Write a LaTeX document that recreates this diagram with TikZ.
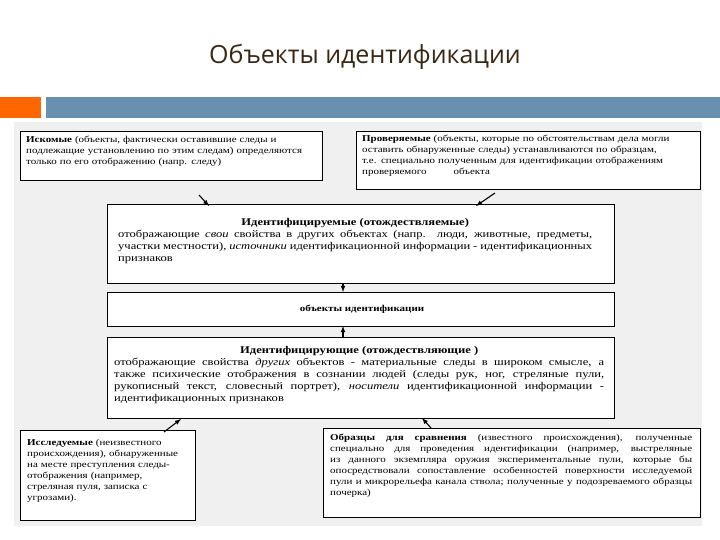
\documentclass[tikz,border=0pt]{standalone}
\usepackage{fontspec}
\setmainfont{Liberation Serif}[FakeStretch=1.22]
\newfontfamily\titlefont{Open Sans}
\begin{document}
\begin{tikzpicture}[x=1pt,y=-1pt,
  bx/.style={draw=black,line width=0.8pt,fill=white},
  tx/.style={font=\fontsize{9}{11}\selectfont,align=justify,inner sep=0pt,anchor=north west},
  ar/.style={-latex,line width=1.1pt}]
\useasboundingbox (0,0) rectangle (720,540);
\node[font=\titlefont\fontsize{25}{28}\selectfont,text=black!70!brown] (title) at (365,57) {Объекты идентификации};
\fill[orange!80!red] (0,97) rectangle (41,118);
\fill[blue!45!cyan!30!gray!90!white] (46,97) rectangle (720,118);
\fill[black!6] (14,122) rectangle (702,526);
% boxes
\draw[bx] (20,131) rectangle (322,180);
\node[tx,text width=284,align=left] (t1) at (26,136) {\textbf{Искомые} (объекты, фактически оставившие следы и подлежащие установлению по этим следам) определяются только по его отображению (напр. следу)};
\draw[bx] (356,131) rectangle (700,189);
\node[tx,text width=330,align=left] (t2) at (362,135) {\textbf{Проверяемые} (объекты, которые по обстоятельствам дела могли оставить обнаруженные следы) устанавливаются по образцам, т.е. специально полученным для идентификации отображениям проверяемого\hspace{3em}объекта};
\draw[bx] (107,204) rectangle (614,283);
\node[tx,font=\fontsize{10.3}{12}\selectfont,text width=474] (t3) at (118,218) {{\centering\textbf{Идентифицируемые (отождествляемые)}\par}отображающие \textit{свои} свойства в других объектах (напр. люди, животные, предметы, участки местности), \textit{источники} идентификационной информации - идентификационных признаков};
\draw[bx] (107,292) rectangle (614,326);
\node[font=\fontsize{9}{10}\selectfont\bfseries] (t4) at (362,309) {объекты идентификации};
\draw[bx] (107,337) rectangle (614,418);
\node[tx,font=\fontsize{10.3}{12}\selectfont,text width=490] (t5) at (114,346) {{\centering\textbf{Идентифицирующие (отождествляющие )}\par}отображающие свойства \textit{других} объектов - материальные следы в широком смысле, а также психические отображения в сознании людей (следы рук, ног, стреляные пули, рукописный текст, словесный портрет), \textit{носители} идентификационной информации - идентификационных признаков};
\draw[bx] (20,430) rectangle (195,520);
\node[tx,text width=160,align=left] (t6) at (27,439) {\textbf{Исследуемые} (неизвестного происхождения), обнаруженные на месте преступления следы-отображения (например, стреляная пуля, записка с угрозами).};
\draw[bx] (323,428) rectangle (700,517);
\node[tx,text width=362] (t7) at (330,434) {\textbf{Образцы для сравнения} (известного происхождения), полученные специально для проведения идентификации (например, выстреляные из данного экземпляра оружия экспериментальные пули, которые бы опосредствовали сопоставление особенностей поверхности исследуемой пули и микрорельефа канала ствола; полученные у подозреваемого образцы почерка)};
% arrows
\coordinate (a1s) at (199,195); \coordinate (a1e) at (209,206);
\coordinate (a2s) at (495,193); \coordinate (a2e) at (476,206);
\coordinate (a3s) at (343,283); \coordinate (a3e) at (343,292);
\coordinate (a4s) at (343,337); \coordinate (a4e) at (343,326);
\coordinate (a5s) at (164,432); \coordinate (a5e) at (181,419);
\coordinate (a6s) at (431,428); \coordinate (a6e) at (422,418);
\draw[ar] (a1s) -- (a1e);
\draw[ar] (a2s) -- (a2e);
\draw[ar] (a3s) -- (a3e);
\draw[ar] (a4s) -- (a4e);
\draw[ar] (a5s) -- (a5e);
\draw[ar] (a6s) -- (a6e);
\end{tikzpicture}
\end{document}
